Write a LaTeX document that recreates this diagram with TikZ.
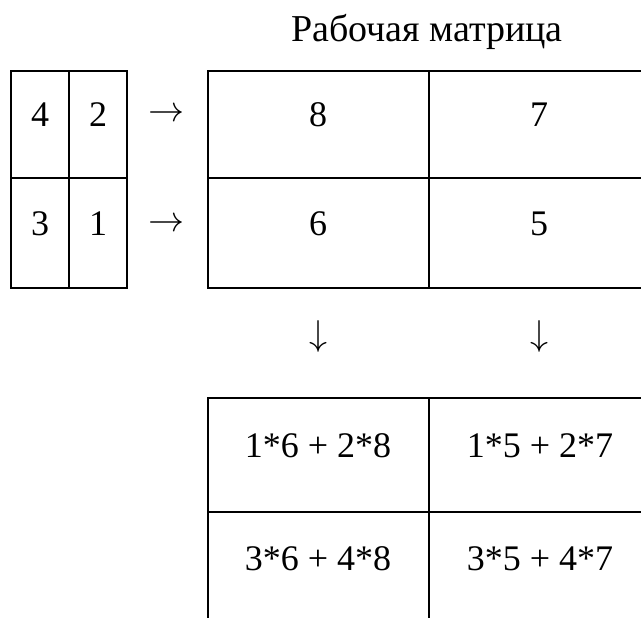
\documentclass[tikz,border=0pt]{standalone}
\usepackage{fontspec}
\setmainfont{Liberation Serif}
\usepackage{tikz}

\begin{document}
\begin{tikzpicture}[x=1pt,y=-1pt, line width=2.8pt,
  font=\fontsize{36}{40}\selectfont,
  cell/.style={anchor=base, inner sep=0pt},
  sign/.style={inner sep=0pt, scale=1.447, transform shape}]
 \useasboundingbox (0,0) rectangle (641,618);
 \clip (0,0) rectangle (641,618);
 % grid corners
 \coordinate (A0) at (11,71);
 \coordinate (A1) at (127,288);
 \coordinate (B0) at (208,71);
 \coordinate (B1) at (680,288);
 \coordinate (C0) at (208,398);
 \coordinate (C1) at (680,680);
 % source matrix
 \draw (A0) rectangle (A1);
 \draw (69,71)--(69,288);
 \draw (11,178)--(127,178);
 % working matrix
 \draw (B0) rectangle (B1);
 \draw (429,71)--(429,288);
 \draw (208,178)--(680,178);
 % result matrix
 \draw (C0) rectangle (C1);
 \draw (429,398)--(429,680);
 \draw (208,512)--(680,512);
 \node[cell,font=\fontsize{38}{42}\selectfont] (title) at (427,42) {Рабочая матрица};
 \node[cell] (a11) at (40,127) {4};
 \node[cell] (a12) at (98,127) {2};
 \node[cell] (a21) at (40,235) {3};
 \node[cell] (a22) at (98,235) {1};
 \node[sign] (r1) at (167,115) {$\rightarrow$};
 \node[sign] (r2) at (167,225) {$\rightarrow$};
 \node[cell] (w11) at (318,127) {8};
 \node[cell] (w12) at (539,127) {7};
 \node[cell] (w21) at (318,235) {6};
 \node[cell] (w22) at (539,235) {5};
 \node[sign] (d1) at (318,336) {$\downarrow$};
 \node[sign] (d2) at (539,336) {$\downarrow$};
 \node[cell] (p11) at (318,457) {1*6 + 2*8};
 \node[cell] (p12) at (540,457) {1*5 + 2*7};
 \node[cell] (p21) at (318,570) {3*6 + 4*8};
 \node[cell] (p22) at (540,570) {3*5 + 4*7};
\end{tikzpicture}
\end{document}
